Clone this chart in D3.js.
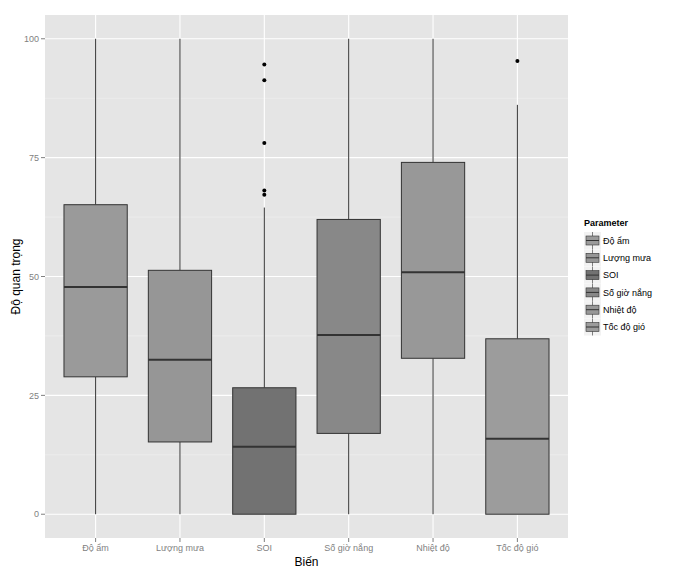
<!DOCTYPE html>
<html><head><meta charset="utf-8">
<script src="https://cdn.jsdelivr.net/npm/d3@7"></script>
<style>body{margin:0;background:#fff;} text{font-family:"Liberation Sans",Arial,sans-serif;}</style>
</head><body>
<svg id="c" width="684" height="576"></svg>
<script>
const categories = ["Độ ẩm","Lượng mưa","SOI","Số giờ nắng","Nhiệt độ","Tốc độ gió"];
const q1 = [28.9, 15.2, 0, 17.0, 32.8, 0];
const median = [47.8, 32.5, 14.2, 37.7, 50.9, 15.9];
const q3 = [65.1, 51.3, 26.6, 62.0, 74.0, 36.9];
const whiskerLow = [0, 0, 0, 0, 0, 0];
const whiskerHigh = [100, 100, 64.5, 100, 100, 86.1];
const outliers = [[], [], [94.6, 91.3, 78.1, 68.1, 67.2], [], [], [95.3]];
const fills = ["#9a9a9a","#969696","#727272","#888888","#989898","#9c9c9c"];
const yTicks = [0, 25, 50, 75, 100];

const svg = d3.select("#c");
const L=45, R=568, T=15, B=538;
const x = d3.scaleBand().domain(categories).range([L,R]).paddingOuter(0.1).paddingInner(0);
// ggplot discrete: expand 0.6 each side => band scale with 6.2 units
const xc = d3.scalePoint().domain(categories).range([L+0.6*(R-L)/6.2, R-0.6*(R-L)/6.2]);
const unit = (R-L)/6.2;
const y = d3.scaleLinear().domain([-5,105]).range([B,T]);

svg.append("rect").attr("x",L).attr("y",T).attr("width",R-L).attr("height",B-T).attr("fill","#e5e5e5");
// minor grid
const minor = [12.5,37.5,62.5,87.5];
svg.selectAll(".mn").data(minor).enter().append("line")
  .attr("x1",L).attr("x2",R).attr("y1",d=>y(d)).attr("y2",d=>y(d)).attr("stroke","#f2f2f2").attr("stroke-width",0.6);
svg.selectAll(".mj").data(yTicks).enter().append("line")
  .attr("x1",L).attr("x2",R).attr("y1",d=>y(d)).attr("y2",d=>y(d)).attr("stroke","#fff").attr("stroke-width",1.1);
svg.selectAll(".vj").data(categories).enter().append("line")
  .attr("x1",d=>xc(d)).attr("x2",d=>xc(d)).attr("y1",T).attr("y2",B).attr("stroke","#fff").attr("stroke-width",1.1);

const bw = 0.75*unit;
const g = svg.selectAll(".box").data(categories).enter().append("g");
g.append("line").attr("x1",d=>xc(d)).attr("x2",d=>xc(d))
  .attr("y1",(d,i)=>y(whiskerHigh[i])).attr("y2",(d,i)=>y(q3[i])).attr("stroke","#333").attr("stroke-width",1);
g.append("line").attr("x1",d=>xc(d)).attr("x2",d=>xc(d))
  .attr("y1",(d,i)=>y(whiskerLow[i])).attr("y2",(d,i)=>y(q1[i])).attr("stroke","#333").attr("stroke-width",1);
g.append("rect").attr("x",d=>xc(d)-bw/2).attr("width",bw)
  .attr("y",(d,i)=>y(q3[i])).attr("height",(d,i)=>y(q1[i])-y(q3[i]))
  .attr("fill",(d,i)=>fills[i]).attr("stroke","#333").attr("stroke-width",1);
g.append("line").attr("x1",d=>xc(d)-bw/2).attr("x2",d=>xc(d)+bw/2)
  .attr("y1",(d,i)=>y(median[i])).attr("y2",(d,i)=>y(median[i])).attr("stroke","#333").attr("stroke-width",2);
categories.forEach((c,i)=>{
  svg.selectAll(null).data(outliers[i]).enter().append("circle")
    .attr("cx",xc(c)).attr("cy",d=>y(d)).attr("r",2).attr("fill","#000");
});

// axes
const ya = svg.append("g");
yTicks.forEach(t=>{
  ya.append("line").attr("x1",L-4).attr("x2",L).attr("y1",y(t)).attr("y2",y(t)).attr("stroke","#7f7f7f");
  ya.append("text").attr("x",L-6).attr("y",y(t)).attr("dy","0.35em").attr("text-anchor","end")
    .attr("font-size",9).attr("fill","#7f7f7f").text(t);
});
categories.forEach(c=>{
  svg.append("line").attr("x1",xc(c)).attr("x2",xc(c)).attr("y1",B).attr("y2",B+4).attr("stroke","#7f7f7f");
  svg.append("text").attr("x",xc(c)).attr("y",B+13).attr("text-anchor","middle")
    .attr("font-size",9).attr("fill","#7f7f7f").text(c);
});
svg.append("text").attr("x",(L+R)/2).attr("y",566).attr("text-anchor","middle").attr("font-size",12).text("Biến");
svg.append("text").attr("transform",`translate(20,${(T+B)/2}) rotate(-90)`).attr("text-anchor","middle")
  .attr("font-size",12).text("Độ quan trọng");

// legend
const lg = svg.append("g").attr("transform","translate(584,218)");
lg.append("text").attr("x",0).attr("y",8).attr("font-size",9).attr("font-weight","bold").text("Parameter");
categories.forEach((c,i)=>{
  const yy = 14 + i*17.3;
  const k = lg.append("g").attr("transform",`translate(0,${yy})`);
  k.append("rect").attr("width",17).attr("height",17).attr("fill","#f2f2f2");
  k.append("line").attr("x1",8.5).attr("x2",8.5).attr("y1",0).attr("y2",17).attr("stroke","#333").attr("stroke-width",0.6);
  k.append("rect").attr("x",2).attr("y",4).attr("width",13).attr("height",9).attr("fill",fills[i]).attr("stroke","#333").attr("stroke-width",0.6);
  k.append("line").attr("x1",2).attr("x2",15).attr("y1",8.5).attr("y2",8.5).attr("stroke","#333").attr("stroke-width",1);
  k.append("text").attr("x",19).attr("y",8.5).attr("dy","0.35em").attr("font-size",9).text(c);
});
</script>
</body></html>
